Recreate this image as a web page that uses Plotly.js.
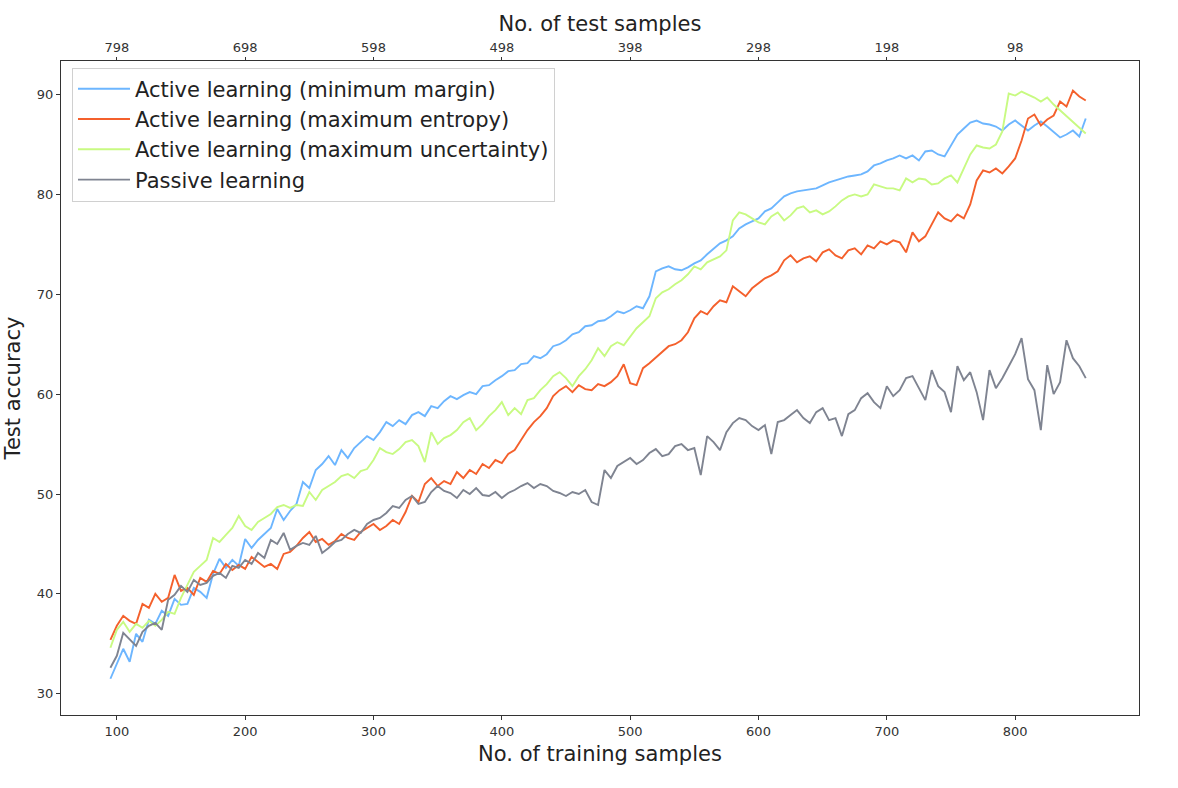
<!DOCTYPE html>
<html>
<head>
<meta charset="utf-8">
<script src="https://cdn.plot.ly/plotly-3.0.1.min.js"></script>
<style>
  html, body { margin: 0; padding: 0; background: #fff; }
  #plot { width: 1178px; height: 788px; }
</style>
</head>
<body>
<div id="plot"></div>
<script>
// training set sizes, every 5 samples from 95 to 855
let train_samples = []
for (let n = 95; n <= 855; n += 5) train_samples.push(n)

// top axis: test samples left for each training size tick
let train_ticks = [100, 200, 300, 400, 500, 600, 700, 800]
let test_ticks = [798, 698, 598, 498, 398, 298, 198, 98]

let min_margin = [
  31.5, 33.0, 34.5, 33.2, 36.0, 35.2, 37.4, 37.0, 38.3, 37.8,
  39.5, 38.9, 39.0, 40.6, 40.2, 39.6, 42.0, 43.5, 42.6, 43.4,
  42.8, 45.5, 44.6, 45.4, 46.0, 46.6, 48.5, 47.4, 48.3, 49.0,
  51.2, 50.6, 52.4, 53.0, 53.8, 52.9, 54.4, 53.6, 54.6, 55.2,
  55.8, 55.4, 56.2, 57.2, 56.8, 57.4, 57.0, 57.9, 58.2, 57.8,
  58.8, 58.6, 59.3, 59.8, 59.5, 59.9, 60.2, 60.0, 60.8, 60.9,
  61.4, 61.8, 62.3, 62.4, 63.0, 63.1, 63.8, 63.6, 64.0, 64.8,
  65.0, 65.4, 66.0, 66.2, 66.8, 66.9, 67.3, 67.4, 67.8, 68.3,
  68.1, 68.4, 68.8, 68.6, 69.8, 72.3, 72.6, 72.8, 72.5, 72.4,
  72.7, 73.1, 73.4, 74.0, 74.6, 75.1, 75.4, 75.8, 76.6, 77.0,
  77.3, 77.6, 78.3, 78.6, 79.2, 79.8, 80.1, 80.3, 80.4, 80.5,
  80.6, 80.9, 81.2, 81.4, 81.6, 81.8, 81.9, 82.0, 82.3, 82.9,
  83.1, 83.4, 83.6, 83.9, 83.6, 83.9, 83.4, 84.3, 84.4, 84.0,
  83.8, 84.9, 86.0, 86.6, 87.2, 87.4, 87.1, 87.0, 86.8, 86.4,
  87.0, 87.4, 86.9, 86.4, 86.9, 87.3, 86.8, 86.2, 85.7, 86.0,
  86.4, 85.8, 87.6
]

let max_entropy = [
  35.4, 36.8, 37.8, 37.3, 37.0, 39.0, 38.6, 40.0, 39.2, 39.6,
  41.9, 40.3, 40.6, 39.9, 41.6, 41.2, 42.3, 42.0, 43.0, 42.4,
  42.9, 42.5, 43.7, 43.2, 42.7, 43.0, 42.5, 44.0, 44.2, 44.8,
  45.6, 46.2, 45.2, 45.5, 44.9, 45.3, 46.0, 45.6, 45.4, 46.2,
  46.6, 47.0, 46.4, 46.8, 47.4, 47.0, 48.2, 49.8, 49.2, 51.0,
  51.6, 50.8, 51.3, 51.0, 52.2, 51.6, 52.4, 52.0, 53.0, 52.6,
  53.4, 53.1, 54.0, 54.4, 55.4, 56.4, 57.2, 57.8, 58.6, 59.8,
  60.4, 60.8, 60.2, 60.9, 60.5, 60.4, 61.0, 60.8, 61.2, 61.8,
  63.0, 61.1, 60.9, 62.6, 63.1, 63.7, 64.2, 64.8, 65.0, 65.4,
  66.2, 67.6, 68.3, 68.0, 68.8, 69.4, 69.2, 70.8, 70.3, 69.8,
  70.6, 71.1, 71.6, 71.9, 72.3, 73.4, 73.9, 73.2, 73.6, 73.8,
  73.3, 74.2, 74.5, 73.9, 73.6, 74.4, 74.6, 74.0, 74.9, 74.6,
  75.3, 75.0, 75.4, 75.2, 74.2, 76.2, 75.3, 75.8, 77.0, 78.2,
  77.6, 77.3, 78.0, 77.6, 79.0, 81.4, 82.4, 82.2, 82.6, 82.1,
  82.8, 83.6, 85.4, 87.6, 88.0, 86.9, 87.5, 87.9, 89.3, 88.8,
  90.4, 89.8, 89.4
]

let max_uncertainty = [
  34.6, 36.4, 37.2, 36.2, 37.0, 36.6, 37.3, 36.8, 37.4, 38.2,
  38.0, 39.6, 40.9, 42.2, 42.8, 43.4, 45.6, 45.2, 45.9, 46.6,
  47.8, 46.8, 46.4, 47.2, 47.6, 48.0, 48.7, 48.9, 48.6, 48.9,
  48.8, 50.2, 49.4, 50.4, 50.8, 51.2, 51.8, 52.0, 51.6, 52.3,
  52.5, 53.4, 54.6, 54.2, 54.0, 54.5, 55.2, 55.4, 54.8, 53.2,
  56.2, 55.0, 55.6, 55.9, 56.4, 57.2, 57.6, 56.4, 57.0, 57.8,
  58.4, 59.2, 57.9, 58.6, 58.0, 59.4, 59.6, 60.4, 61.0, 61.8,
  62.2, 61.6, 60.8, 61.8, 62.5, 63.4, 64.6, 63.8, 64.8, 65.2,
  64.9, 65.8, 66.6, 67.2, 67.8, 69.6, 70.2, 70.5, 71.0, 71.4,
  72.0, 72.8, 72.5, 73.2, 73.5, 73.8, 74.4, 77.4, 78.2, 78.0,
  77.6, 77.2, 77.0, 77.8, 78.2, 77.4, 77.9, 78.6, 78.8, 78.2,
  78.4, 78.0, 78.3, 78.8, 79.4, 79.8, 80.0, 79.8, 80.0, 81.0,
  80.8, 80.6, 80.6, 80.4, 81.6, 81.2, 81.6, 81.5, 81.0, 81.1,
  81.6, 81.9, 81.2, 82.6, 84.0, 84.9, 84.7, 84.6, 85.0, 86.3,
  90.1, 89.9, 90.3, 90.0, 89.7, 89.3, 89.7, 89.0, 88.4, 87.9,
  87.3, 86.7, 86.1
]

let passive = [
  32.6, 33.8, 36.1, 35.4, 34.8, 36.2, 36.8, 37.1, 36.4, 39.4,
  39.9, 40.8, 40.2, 41.4, 40.9, 41.1, 41.8, 42.1, 41.6, 42.8,
  42.6, 43.4, 43.0, 44.1, 43.6, 45.4, 45.0, 46.1, 44.4, 44.8,
  45.1, 44.9, 45.8, 44.1, 44.6, 45.2, 45.4, 46.0, 46.4, 46.1,
  47.0, 47.4, 47.6, 48.1, 48.8, 48.6, 49.4, 49.8, 49.0, 49.2,
  50.2, 50.8, 50.3, 50.1, 49.6, 50.4, 50.0, 50.6, 49.9, 49.8,
  50.2, 49.6, 50.1, 50.4, 50.8, 51.1, 50.6, 51.0, 50.8, 50.3,
  50.1, 49.8, 50.2, 50.0, 50.4, 49.2, 48.9, 52.4, 51.6, 52.8,
  53.2, 53.6, 53.0, 53.4, 54.1, 54.5, 53.8, 54.0, 54.8, 55.0,
  54.4, 54.6, 51.9, 55.8, 55.2, 54.4, 56.2, 57.1, 57.6, 57.4,
  56.8, 56.4, 56.9, 54.0, 57.2, 57.4, 57.9, 58.4, 57.6, 57.1,
  58.2, 58.6, 57.4, 57.6, 55.8, 58.0, 58.4, 59.6, 60.1, 59.2,
  58.6, 60.8, 59.8, 60.4, 61.6, 61.8, 60.6, 59.4, 62.4, 60.8,
  60.2, 58.2, 62.8, 61.4, 62.2, 60.2, 57.4, 62.4, 60.6, 61.6,
  62.8, 64.0, 65.6, 61.5, 60.4, 56.4, 62.9, 60.0, 61.2, 65.4,
  63.6, 62.8, 61.6
]

let series = [
  {name: 'Active learning (minimum margin)', y: min_margin, color: '#6db6ff'},
  {name: 'Active learning (maximum entropy)', y: max_entropy, color: '#f4602c'},
  {name: 'Active learning (maximum uncertainty)', y: max_uncertainty, color: '#c8fa82'},
  {name: 'Passive learning', y: passive, color: '#7f8491'},
]

let data = series.map((s, i) => ({
  name: s.name,
  x: train_samples,
  y: s.y,
  // last series goes on the top (test samples) axis so that axis gets drawn;
  // both axes share the same range so the line lands in the same place
  xaxis: i == series.length - 1 ? 'x2' : 'x',
  type: 'scatter',
  mode: 'lines',
  line: {color: s.color, width: 1.9},
}))

let x_range = [56.5, 896.5]
let tick_font = {family: 'DejaVu Sans', size: 13, color: '#333'}
let title_font = {family: 'DejaVu Sans', size: 21, color: '#222'}

let layout = {
  width: 1178,
  height: 788,
  margin: {l: 61, r: 39, t: 61, b: 73},
  paper_bgcolor: '#fff',
  plot_bgcolor: '#fff',
  showlegend: true,
  legend: {
    x: 0.0102, y: 0.99, xanchor: 'left', yanchor: 'top',
    itemwidth: 52,
    bgcolor: 'rgba(255,255,255,0.8)',
    bordercolor: '#d0d0d0', borderwidth: 1,
    font: {family: 'DejaVu Sans', size: 21, color: '#222'},
  },
  xaxis: {
    range: x_range,
    tickvals: train_ticks,
    ticks: 'outside', ticklen: 4, tickcolor: '#333',
    showline: true, linecolor: '#333', linewidth: 1,
    showgrid: false, zeroline: false,
    tickfont: tick_font,
    title: {text: 'No. of training samples', font: title_font, standoff: 8},
  },
  xaxis2: {
    overlaying: 'x',
    anchor: 'y',
    side: 'top',
    range: x_range,
    tickvals: train_ticks,
    ticktext: test_ticks.map(String),
    ticks: 'outside', ticklen: 3, tickcolor: '#333',
    showline: true, linecolor: '#333', linewidth: 1,
    showgrid: false, zeroline: false,
    tickfont: tick_font,
    title: {text: 'No. of test samples', font: title_font, standoff: 2},
  },
  yaxis: {
    range: [27.87, 93.36],
    tickvals: [30, 40, 50, 60, 70, 80, 90],
    ticks: 'outside', ticklen: 4, tickcolor: '#333',
    showline: true, linecolor: '#333', linewidth: 1, mirror: true,
    showgrid: false, zeroline: false,
    tickfont: tick_font,
    title: {text: 'Test accuracy', font: title_font, standoff: 10},
  },
}

Plotly.newPlot('plot', data, layout, {displayModeBar: false, staticPlot: true})
</script>
</body>
</html>
